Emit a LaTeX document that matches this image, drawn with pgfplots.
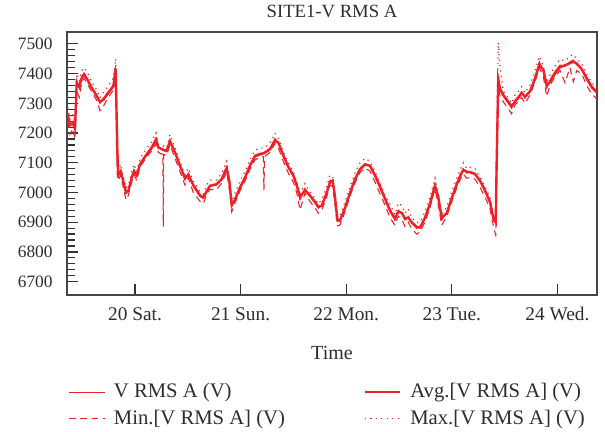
\documentclass[border=0pt]{standalone}
\usepackage{fontspec}
\setmainfont{Liberation Serif}
\usepackage{pgfplots}
\pgfplotsset{compat=1.18}
\usepackage{pgfplotstable}
\definecolor{vred}{RGB}{236,34,40}
\definecolor{txt}{RGB}{45,45,45}
\definecolor{axc}{RGB}{70,70,70}

% time in days (20 = Sat 00:00), voltage in V
\pgfplotstableread{
t v avg vmin vmax
19.363 7268 7262 7240 7285
19.384 7222 7228 7195 7245
19.410 7238 7232 7215 7260
19.432 7210 7215 7180 7235
19.448 7379 7370 7340 7400
19.473 7351 7355 7320 7375
19.495 7390 7385 7370 7410
19.517 7401 7398 7385 7420
19.548 7384 7380 7365 7405
19.590 7356 7352 7340 7372
19.637 7328 7325 7310 7345
19.669 7300 7305 7275 7318
19.700 7317 7312 7290 7335
19.747 7339 7335 7320 7358
19.795 7362 7358 7345 7385
19.817 7424 7415 7405 7450
19.832 7087 7150 7060 7110
19.842 7053 7060 7040 7075
19.865 7076 7070 7060 7095
19.884 7042 7045 7025 7060
19.915 6997 7000 6975 7015
19.937 7008 7005 6990 7025
19.969 7053 7050 7035 7070
19.991 7076 7072 7060 7095
20.016 7053 7058 7040 7070
20.047 7098 7095 7085 7115
20.111 7132 7128 7120 7148
20.158 7154 7150 7140 7170
20.199 7182 7178 7165 7200
20.221 7149 7152 7135 7162
20.260 7143 7145 7128 7158
20.264 7143 7144 7130 7157
20.268 7142 7144 6885 7157
20.272 7141 7143 7128 7156
20.300 7137 7140 7125 7150
20.331 7177 7172 7160 7195
20.379 7132 7135 7115 7150
20.426 7087 7090 7070 7105
20.473 7042 7048 7025 7060
20.505 7065 7060 7050 7082
20.552 7020 7025 7000 7038
20.616 6986 6990 6970 7002
20.647 6980 6984 6962 6995
20.679 7008 7004 6995 7025
20.710 7025 7022 7010 7042
20.774 7025 7028 7010 7042
20.821 7048 7045 7032 7065
20.868 7087 7082 7070 7105
20.893 7031 7040 7010 7050
20.916 6952 6958 6935 6970
20.947 6980 6976 6965 6998
20.994 7020 7016 7005 7038
21.042 7053 7050 7038 7070
21.089 7093 7090 7078 7110
21.136 7126 7122 7110 7142
21.184 7132 7128 7118 7150
21.215 7134 7131 7120 7150
21.221 7135 7132 7008 7150
21.227 7136 7133 7120 7151
21.278 7149 7145 7135 7165
21.326 7182 7175 7165 7200
21.357 7166 7168 7150 7182
21.404 7121 7125 7105 7138
21.452 7082 7086 7065 7100
21.499 7053 7058 7035 7070
21.531 7020 7025 7000 7038
21.563 6975 6985 6941 6995
21.610 7014 7008 6998 7030
21.657 6986 6990 6970 7002
21.705 6964 6968 6948 6980
21.736 6947 6952 6930 6962
21.768 6958 6955 6940 6975
21.815 7003 6998 6985 7020
21.847 7042 7035 7025 7058
21.872 7037 7040 7020 7055
21.894 6975 6985 6958 6992
21.916 6902 6910 6888 6918
21.941 6907 6905 6890 6922
21.989 6952 6948 6935 6968
22.036 7003 6998 6988 7020
22.083 7048 7044 7032 7065
22.131 7082 7078 7068 7100
22.178 7098 7094 7082 7115
22.225 7087 7090 7072 7105
22.273 7053 7058 7035 7070
22.320 7014 7020 6995 7030
22.367 6975 6980 6958 6992
22.415 6935 6940 6915 6960
22.462 6907 6912 6890 6925
22.493 6941 6935 6920 6965
22.526 6930 6932 6910 6955
22.557 6907 6912 6885 6930
22.588 6919 6915 6900 6945
22.620 6896 6900 6878 6915
22.668 6879 6884 6860 6898
22.699 6885 6882 6868 6902
22.746 6919 6914 6900 6935
22.794 6969 6962 6950 6985
22.841 7031 7022 7012 7048
22.872 6975 6985 6958 6995
22.904 6907 6915 6890 6925
22.952 6935 6930 6918 6952
22.999 6986 6980 6968 7002
23.046 7031 7026 7015 7048
23.078 7059 7055 7042 7075
23.109 7080 7076 7062 7100
23.141 7065 7070 7048 7080
23.172 7070 7068 7050 7085
23.220 7065 7062 7045 7080
23.267 7037 7040 7018 7052
23.314 7003 7008 6985 7020
23.362 6964 6968 6945 6982
23.393 6907 6915 6888 6925
23.416 6896 6900 6857 6915
23.425 7121 7100 7080 7200
23.440 7390 7380 7360 7504
23.456 7345 7350 7325 7420
23.488 7323 7328 7305 7340
23.535 7300 7305 7282 7318
23.566 7283 7290 7265 7300
23.598 7311 7305 7295 7328
23.630 7323 7318 7305 7340
23.662 7339 7335 7320 7356
23.693 7317 7322 7300 7335
23.741 7345 7340 7328 7362
23.788 7390 7382 7372 7408
23.829 7440 7430 7420 7458
23.867 7407 7412 7390 7425
23.899 7351 7360 7323 7370
23.930 7379 7372 7360 7395
23.977 7407 7400 7390 7425
24.025 7429 7422 7410 7448
24.072 7424 7428 7369 7442
24.119 7440 7435 7420 7458
24.151 7446 7440 7373 7465
24.183 7429 7434 7410 7448
24.230 7418 7415 7400 7435
24.277 7379 7385 7360 7398
24.325 7351 7356 7332 7370
24.372 7334 7338 7315 7352
}\site

\begin{document}
\fontsize{14}{17}\selectfont
\begin{tikzpicture}
\begin{axis}[
  name=ax,
  scale only axis,
  width=397.5pt, height=197.25pt,
  xmin=19.356, xmax=24.375,
  ymin=6655, ymax=7540,
  axis line style={axc, line width=1pt},
  tick style={black!80, line width=0.9pt},
  tick align=inside,
  xtick pos=bottom, ytick pos=left,
  xtick={20,21,22,23,24},
  xticklabels={20 Sat.,21 Sun.,22 Mon.,23 Tue.,24 Wed.},
  ytick={6700,6800,6900,7000,7100,7200,7300,7400,7500},
  minor y tick num=4,
  major tick length=8.5pt,
  minor tick length=6pt,
  /pgf/number format/assume math mode=true,
  /pgf/number format/1000 sep={},
  tick label style={text=txt},
  yticklabel style={font=\fontsize{13}{15}\selectfont, xshift=-6pt},
  xticklabel style={font=\fontsize{14.5}{17}\selectfont, yshift=-4.5pt},
  title={SITE1-V RMS A},
  title style={text=txt},
  xlabel={Time},
  xlabel style={text=txt, font=\fontsize{15}{18}\selectfont, yshift=-9pt},
  legend columns=2,
  legend cell align=left,
  legend style={at={(-0.005,-0.315)}, anchor=north west, draw=none, fill=none,
    text=txt, font=\fontsize{15.5}{18}\selectfont, row sep=3pt,
    /tikz/every odd column/.append style={column sep=4.5pt},
    /tikz/every even column/.append style={column sep=57pt}},
  legend image code/.code={\draw[#1] (0pt,0pt) -- (26.7pt,0pt);},
]
\addplot[vred, line width=0.75pt] table[x=t,y=v]{\site};
\addlegendentry{V RMS A (V)}
\addplot[vred, line width=1.8pt] table[x=t,y=avg]{\site};
\addlegendentry{Avg.[V RMS A] (V)}
\addplot[vred, line width=0.8pt, dash pattern=on 5pt off 3.5pt] table[x=t,y=vmin]{\site};
\addlegendentry{Min.[V RMS A] (V)}
\addplot[vred, line width=0.9pt, dash pattern=on 0.9pt off 3.2pt] table[x=t,y=vmax]{\site};
\addlegendentry{Max.[V RMS A] (V)}
\end{axis}
\pgfresetboundingbox
\path ([shift={(-50.25pt,-102pt)}]ax.south west) rectangle ([shift={(6pt,24pt)}]ax.north east);
\end{tikzpicture}
\end{document}
